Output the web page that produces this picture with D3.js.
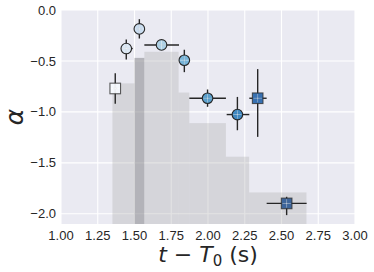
<!DOCTYPE html>
<html>
<head>
<meta charset="utf-8">
<script src="https://cdn.jsdelivr.net/npm/d3@7"></script>
<style>
  body { margin: 0; background: #fff; }
  svg { display: block; font-family: "Liberation Sans", Arial, sans-serif; }
</style>
</head>
<body>
<script>
const width = 374, height = 272;
const margin = {top: 10, right: 19, bottom: 48, left: 61};

// shaded steps (edges + tops)
const binEdges = [1.35, 1.50, 1.567, 1.80, 1.873, 2.122, 2.28, 2.67];
const binTops = [-0.72, -0.47, -0.41, -0.81, -1.11, -1.44, -1.79];
const binDark = [false, true, false, false, false, false, false];

// points with error bars
const tVals = [1.369, 1.444, 1.533, 1.684, 1.839, 1.997, 2.200, 2.338, 2.535];
const aVals = [-0.77, -0.378, -0.186, -0.343, -0.493, -0.866, -1.026, -0.866, -1.898];
const tLo = [1.355, 1.408, 1.512, 1.567, 1.828, 1.873, 2.127, 2.281, 2.399];
const tHi = [1.383, 1.488, 1.554, 1.803, 1.85, 2.122, 2.281, 2.399, 2.671];
const aLo = [-0.92, -0.486, -0.28, -0.355, -0.61, -0.95, -1.18, -1.245, -2.013];
const aHi = [-0.62, -0.29, -0.09, -0.33, -0.39, -0.78, -0.853, -0.58, -1.833];
const shapes = ["square", "circle", "circle", "circle", "circle", "circle", "circle", "square", "square"];
const fills = ["#f7fbff", "#dbe9f6", "#c6dbef", "#a6cee4", "#6aaed6", "#4a98c9", "#2e7ebc", "#2363aa", "#2b5892"];

const xTicks = [1.00, 1.25, 1.50, 1.75, 2.00, 2.25, 2.50, 2.75, 3.00];
const yTicks = [0.0, -0.5, -1.0, -1.5, -2.0];

const x = d3.scaleLinear().domain([1, 3]).range([margin.left, width - margin.right]);
const y = d3.scaleLinear().domain([-2.1, 0]).range([height - margin.bottom, margin.top]);

const svg = d3.select("body").append("svg")
  .attr("width", width).attr("height", height);

svg.append("rect")
  .attr("x", margin.left).attr("y", margin.top)
  .attr("width", x(3) - x(1)).attr("height", y(-2.1) - y(0))
  .attr("fill", "#eaeaf2");

// grid
svg.append("g").selectAll("line").data(xTicks).join("line")
  .attr("x1", d => x(d)).attr("x2", d => x(d))
  .attr("y1", y(0)).attr("y2", y(-2.1))
  .attr("stroke", "#fff").attr("stroke-width", 1.1);
svg.append("g").selectAll("line").data(yTicks).join("line")
  .attr("x1", x(1)).attr("x2", x(3))
  .attr("y1", d => y(d)).attr("y2", d => y(d))
  .attr("stroke", "#fff").attr("stroke-width", 1.1);

// shaded bins
svg.append("g").selectAll("rect").data(binTops).join("rect")
  .attr("x", (d, i) => x(binEdges[i]))
  .attr("width", (d, i) => x(binEdges[i + 1]) - x(binEdges[i]))
  .attr("y", d => y(d))
  .attr("height", d => y(-2.1) - y(d))
  .attr("fill", (d, i) => binDark[i] ? "#85858b" : "#b0b0b0")
  .attr("fill-opacity", (d, i) => binDark[i] ? 0.55 : 0.35);

// error bars
const pts = tVals.map((t, i) => ({t, a: aVals[i], t0: tLo[i], t1: tHi[i], a0: aLo[i], a1: aHi[i], shape: shapes[i], fill: fills[i]}));
const eb = svg.append("g").attr("stroke", "#262626").attr("stroke-width", 1.4);
eb.selectAll(".h").data(pts).join("line")
  .attr("x1", d => x(d.t0)).attr("x2", d => x(d.t1))
  .attr("y1", d => y(d.a)).attr("y2", d => y(d.a));
eb.selectAll(".v").data(pts).join("line")
  .attr("x1", d => x(d.t)).attr("x2", d => x(d.t))
  .attr("y1", d => y(d.a0)).attr("y2", d => y(d.a1));

// markers
const mk = svg.append("g");
const r = 5.3;
mk.selectAll("circle").data(pts.filter(d => d.shape === "circle")).join("circle")
  .attr("cx", d => x(d.t)).attr("cy", d => y(d.a)).attr("r", r)
  .attr("fill", d => d.fill).attr("fill-opacity", 0.9)
  .attr("stroke", "#262626").attr("stroke-width", 1.1);
mk.selectAll("rect").data(pts.filter(d => d.shape === "square")).join("rect")
  .attr("x", d => x(d.t) - r).attr("y", d => y(d.a) - r)
  .attr("width", 2 * r).attr("height", 2 * r)
  .attr("fill", d => d.fill).attr("fill-opacity", 0.9)
  .attr("stroke", "#333").attr("stroke-opacity", 0.8).attr("stroke-width", 1.1);
// faint cross through the markers
const cr = mk.append("g").attr("stroke", "#fff").attr("stroke-opacity", 0.45).attr("stroke-width", 1);
cr.selectAll(".ch").data(pts).join("line")
  .attr("x1", d => x(d.t) - r + 1).attr("x2", d => x(d.t) + r - 1)
  .attr("y1", d => y(d.a)).attr("y2", d => y(d.a));
cr.selectAll(".cv").data(pts).join("line")
  .attr("x1", d => x(d.t)).attr("x2", d => x(d.t))
  .attr("y1", d => y(d.a) - r + 1).attr("y2", d => y(d.a) + r - 1);

// tick labels
svg.append("g").selectAll("text").data(xTicks).join("text")
  .attr("x", d => x(d)).attr("y", y(-2.1) + 16)
  .attr("text-anchor", "middle").attr("font-size", 13).attr("fill", "#262626")
  .text(d3.format(".2f"));
svg.append("g").selectAll("text").data(yTicks).join("text")
  .attr("x", margin.left - 5).attr("y", d => y(d)).attr("dy", "0.35em")
  .attr("text-anchor", "end").attr("font-size", 13).attr("fill", "#262626")
  .text(d3.format(".1f"));

// axis labels (mathtext-like)
const xl = svg.append("text")
  .attr("x", (x(1) + x(3)) / 2).attr("y", 262)
  .attr("text-anchor", "middle").attr("font-size", 22)
  .attr("font-family", "'DejaVu Sans', sans-serif").attr("fill", "#262626");
xl.append("tspan").attr("font-style", "italic").text("t");
xl.append("tspan").text(" \u2212 ");
xl.append("tspan").attr("font-style", "italic").text("T");
xl.append("tspan").attr("font-size", 15).attr("dy", 4).text("0");
xl.append("tspan").attr("dy", -4).text(" (s)");

svg.append("text")
  .attr("transform", `translate(23,${(y(0) + y(-2.1)) / 2}) rotate(-90)`)
  .attr("text-anchor", "middle").attr("font-size", 25).attr("font-style", "italic")
  .attr("font-family", "'DejaVu Sans', sans-serif")
  .attr("fill", "#262626").text("\u03b1");
</script>
</body>
</html>
